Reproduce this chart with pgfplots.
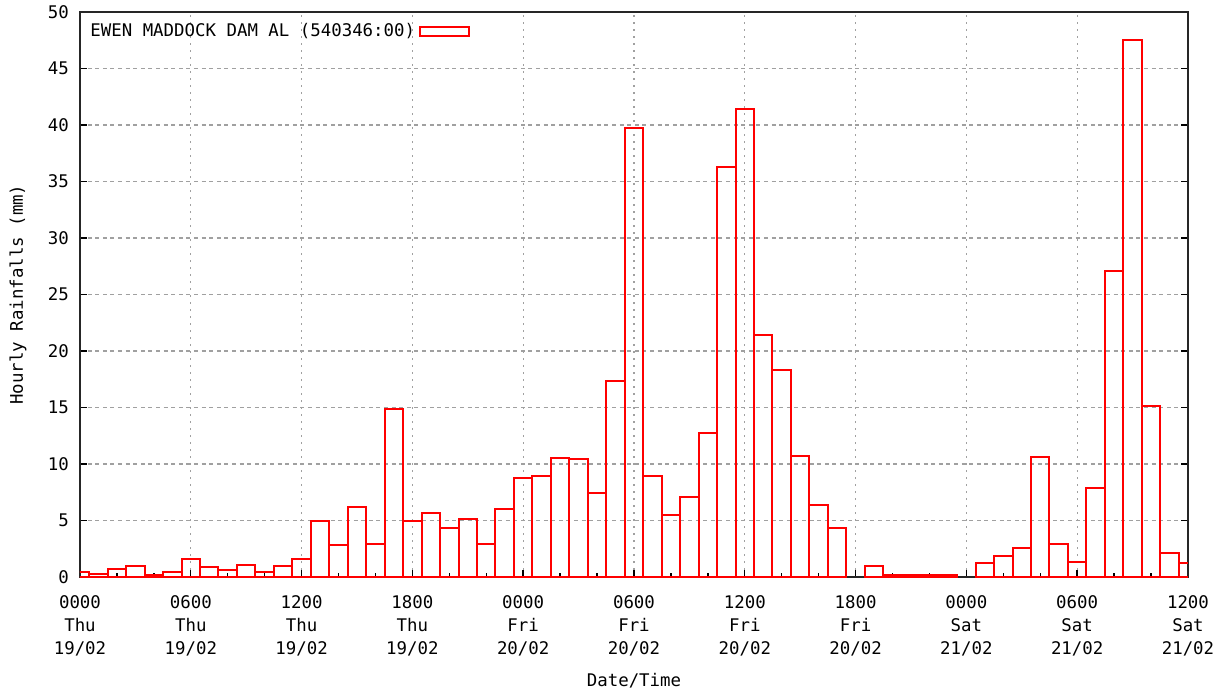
\documentclass[border=0pt]{standalone}
\usepackage{fontspec}
\setmainfont{DejaVu Sans Mono}
\usepackage{pgfplots}
\pgfplotsset{compat=1.18}
\newcommand\gf{\fontsize{8.7}{11.5}\selectfont}
\definecolor{gridgray}{HTML}{A0A0A0}
\pgfplotstableread{
h v
0 0.47
1 0.30
2 0.75
3 0.95
4 0.17
5 0.47
6 1.55
7 0.92
8 0.62
9 1.10
10 0.42
11 0.95
12 1.55
13 4.95
14 2.80
15 6.20
16 2.96
17 14.90
18 4.95
19 5.70
20 4.30
21 5.10
22 2.96
23 6.00
24 8.80
25 8.95
26 10.50
27 10.40
28 7.45
29 17.35
30 39.70
31 8.95
32 5.50
33 7.10
34 12.70
35 36.30
36 41.40
37 21.40
38 18.30
39 10.70
40 6.35
41 4.30
43 0.93
44 0.15
45 0.15
46 0.15
47 0.15
49 1.25
50 1.86
51 2.60
52 10.63
53 2.92
54 1.33
55 7.87
56 27.08
57 47.50
58 15.10
59 2.16
60 1.23
}\rain
\begin{document}
\begin{tikzpicture}
\useasboundingbox (-40pt,-60pt) rectangle (571.5pt,288.5pt);
\begin{axis}[
  at={(0pt,0pt)}, anchor=south west,
  scale only axis, width=554pt, height=282.5pt,
  xmin=0, xmax=60, ymin=0, ymax=50,
  axis line style={black!85, line width=0.8pt},
  xtick={0,6,...,60},
  minor xtick={0,2,...,60},
  ytick={0,5,...,50},
  xtick pos=bottom, ytick pos=both,
  tick align=inside,
  major tick length=3.5pt, minor tick length=2pt,
  tick style={black, line width=0.7pt},
  xticklabels={{0000\\Thu\\19/02},{0600\\Thu\\19/02},{1200\\Thu\\19/02},{1800\\Thu\\19/02},{0000\\Fri\\20/02},{0600\\Fri\\20/02},{1200\\Fri\\20/02},{1800\\Fri\\20/02},{0000\\Sat\\21/02},{0600\\Sat\\21/02},{1200\\Sat\\21/02}},
  xticklabel style={align=center, font=\gf, yshift=-6pt},
  yticklabel style={font=\gf, xshift=-2pt},
  /pgf/number format/assume math mode=true,
  xmajorgrids, ymajorgrids,
  x grid style={gridgray, line width=0.6pt, dash pattern=on 1.2pt off 2.3pt},
  y grid style={gridgray, line width=0.6pt, dash pattern=on 2pt off 1.8pt},
  every axis x label/.style={at={(rel axis cs:0.5,0)}, yshift=-52pt, anchor=center, font=\gf},
  every axis y label/.style={at={(rel axis cs:0,0.5)}, xshift=-31pt, rotate=90, anchor=center, font=\gf},
  xlabel={Date/Time},
  ylabel={Hourly Rainfalls (mm)},
  legend plot pos=right,
  legend style={draw=none, fill=none, at={(0,1)}, anchor=north west, xshift=2pt, yshift=-2.5pt, font=\gf, inner sep=1pt},
  legend image code/.code={\draw[red, line width=0.8pt] (4pt,-2.25pt) rectangle (28.5pt,2.25pt);},
]
\addplot[ybar, bar width=1, bar shift=0pt, draw=red, line width=1pt, fill=none] table[x=h, y=v] {\rain};
\addlegendentry{EWEN MADDOCK DAM AL (540346:00)}
\end{axis}
\end{tikzpicture}
\end{document}
